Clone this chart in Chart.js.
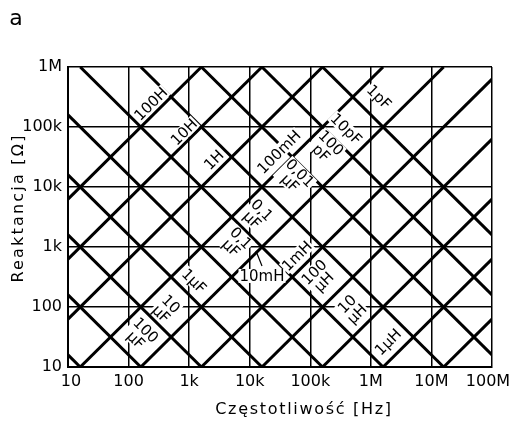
<!DOCTYPE html>
<html><head><meta charset="utf-8">
<script src="https://cdn.jsdelivr.net/npm/chart.js@4/dist/chart.umd.min.js"></script>
<style>html,body{margin:0;padding:0;background:#fff}#wrap{width:510px;height:422px;position:relative}</style>
</head><body><div id="wrap"><canvas id="c"></canvas></div>
<script>
// axis ticks
const xTickValues = [10, 100, 1e3, 1e4, 1e5, 1e6, 1e7, 1e8];
const xTickLabels = ['10', '100', '1k', '10k', '100k', '1M', '10M', '100M'];
const yTickValues = [10, 100, 1e3, 1e4, 1e5, 1e6];
const yTickLabels = ['10', '100', '1k', '10k', '100k', '1M'];

// inductive reactance lines: endpoints [frequency Hz, reactance Ω]
const inductorNames = ['100H', '10H', '1H', '100mH', '10mH', '1mH', '100μH', '10μH', '1μH', '100nH'];
const inductorStart = [[10, 6283], [10, 628.3], [10, 62.83], [15.92, 10], [159.2, 10], [1592, 10], [15915, 10], [159155, 10], [1.592e6, 10], [1.592e7, 10]];
const inductorEnd = [[1592, 1e6], [15915, 1e6], [159155, 1e6], [1.592e6, 1e6], [1.592e7, 1e6], [1e8, 628319], [1e8, 62832], [1e8, 6283], [1e8, 628.3], [1e8, 62.83]];

// capacitive reactance lines: endpoints [frequency Hz, reactance Ω]
const capacitorNames = ['1000μF', '100μF', '10μF', '1μF', '0,1μF', '0,01μF', '0,001μF', '100pF', '10pF', '1pF'];
const capacitorStart = [[10, 15.92], [10, 159.2], [10, 1592], [10, 15915], [10, 159155], [15.92, 1e6], [159.2, 1e6], [1592, 1e6], [15915, 1e6], [159155, 1e6]];
const capacitorEnd = [[15.92, 10], [159.2, 10], [1592, 10], [15915, 10], [159155, 10], [1.592e6, 10], [1.592e7, 10], [1e8, 15.92], [1e8, 159.2], [1e8, 1592]];

// line label texts
const inductorLabelTexts = ['100H', '10H', '1H', '100mH', '1mH', '100\nμH', '10\nμH', '1μH'];
const capacitorLabelTexts = ['1pF', '10pF', '100\npF', '0,01\nμF', '0,1\nμF', '0,1\nμF', '1μF', '10\nμF', '100\nμF'];
const leaderLabelText = '10mH';

// label anchors (data coordinates)
const inductorLabelAt = [[234, 241500], [822, 82600], [2570, 28200], [30500, 38300], [60400, 708], [139300, 316], [489000, 92.7], [1.92e6, 26.1]];
const capacitorLabelAt = [[1.365e6, 316000], [389000, 92700], [182000, 44700], [56000, 14100], [13200, 3410], [5940, 1167], [1202, 271], [415, 92.7], [160, 34.1]];
const leaderLabelAt = [15960, 329];
const leaderFrom = [15960, 482];
const leaderTo = [12700, 857];

const datasets = [];
inductorNames.forEach((n, i) => datasets.push({
  label: n, data: [{x: inductorStart[i][0], y: inductorStart[i][1]}, {x: inductorEnd[i][0], y: inductorEnd[i][1]}],
  borderColor: '#000', borderWidth: 3, pointRadius: 0, showLine: true, borderCapStyle: 'butt'
}));
capacitorNames.forEach((n, i) => datasets.push({
  label: n, data: [{x: capacitorStart[i][0], y: capacitorStart[i][1]}, {x: capacitorEnd[i][0], y: capacitorEnd[i][1]}],
  borderColor: '#000', borderWidth: 3, pointRadius: 0, showLine: true, borderCapStyle: 'butt'
}));

const FONT = '"DejaVu Sans", sans-serif';

function drawLabel(ctx, chart, text, at, angle) {
  const xs = chart.scales.x, ys = chart.scales.y;
  const px = xs.getPixelForValue(at[0]), py = ys.getPixelForValue(at[1]);
  const lines = text.split('\n');
  const lh = 14;
  ctx.save();
  ctx.translate(px, py);
  ctx.rotate(angle);
  ctx.font = '15px ' + FONT;
  let w = 0;
  lines.forEach(l => { w = Math.max(w, ctx.measureText(l).width); });
  const h = lines.length * lh;
  ctx.fillStyle = '#fff';
  ctx.fillRect(-w / 2 - 1, -h / 2, w + 2, h);
  ctx.fillStyle = '#000';
  ctx.textAlign = 'center';
  ctx.textBaseline = 'middle';
  lines.forEach((l, k) => ctx.fillText(l, 0, -h / 2 + lh / 2 + k * lh + 1));
  ctx.restore();
}

const annotations = {
  id: 'annotations',
  beforeDraw(chart) {
    // keep the first/last x tick labels inside the canvas like the reference
    const xs = chart.scales.x;
    const items = xs.getLabelItems();
    if (items.length) {
      items[0].options.translation[0] = xs.left + 3;
      items[items.length - 1].options.translation[0] = xs.right - 4;
    }
  },
  afterDatasetsDraw(chart) {
    const ctx = chart.ctx;
    inductorLabelTexts.forEach((t, i) => drawLabel(ctx, chart, t, inductorLabelAt[i], -Math.PI / 4));
    capacitorLabelTexts.forEach((t, i) => drawLabel(ctx, chart, t, capacitorLabelAt[i], Math.PI / 4));
    drawLabel(ctx, chart, leaderLabelText, leaderLabelAt, 0);
    const xs = chart.scales.x, ys = chart.scales.y;
    ctx.save();
    ctx.strokeStyle = '#000'; ctx.lineWidth = 1.2;
    ctx.beginPath();
    ctx.moveTo(xs.getPixelForValue(leaderFrom[0]), ys.getPixelForValue(leaderFrom[1]));
    ctx.lineTo(xs.getPixelForValue(leaderTo[0]), ys.getPixelForValue(leaderTo[1]));
    ctx.stroke();
    ctx.restore();
  },
  afterDraw(chart) {
    const ctx = chart.ctx;
    ctx.save();
    ctx.fillStyle = '#000';
    ctx.textAlign = 'center';
    ctx.textBaseline = 'middle';
    ctx.font = '22px ' + FONT;
    ctx.fillText('a', 16, 19);
    ctx.font = '16px ' + FONT;
    ctx.letterSpacing = '1.7px';
    ctx.fillText('Częstotliwość [Hz]', 304, 410);
    ctx.translate(19, 208);
    ctx.rotate(-Math.PI / 2);
    ctx.letterSpacing = '2.2px';
    ctx.fillText('Reaktancja [Ω]', 0, 0);
    ctx.restore();
  }
};

new Chart(document.getElementById('c'), {
  type: 'scatter',
  data: { datasets },
  options: {
    responsive: true, maintainAspectRatio: false, animation: false,
    layout: { padding: { top: 67, right: 18, left: 0, bottom: 0 } },
    plugins: { legend: { display: false }, tooltip: { enabled: false } },
    scales: {
      x: {
        type: 'logarithmic', min: 10, max: 1e8,
        afterBuildTicks: s => { s.ticks = xTickValues.map(v => ({ value: v })); },
        afterFit: s => { s.height = 55; s.paddingLeft = 0; s.paddingRight = 0; },
        ticks: { autoSkip: false, maxRotation: 0, padding: 5, color: '#000', font: { family: FONT, size: 16 },
          callback: (v, i) => xTickLabels[i] },
        grid: { color: '#000', lineWidth: 1.5, drawTicks: false },
        border: { display: true, color: '#000', width: 2 }
      },
      y: {
        type: 'logarithmic', min: 10, max: 1e6,
        afterBuildTicks: s => { s.ticks = yTickValues.map(v => ({ value: v })); },
        afterFit: s => { s.width = 68; s.paddingTop = 0; s.paddingBottom = 0; },
        ticks: { autoSkip: false, padding: 6, color: '#000', font: { family: FONT, size: 16 },
          callback: (v, i) => yTickLabels[i] },
        grid: { color: '#000', lineWidth: 1.5, drawTicks: false },
        border: { display: true, color: '#000', width: 2 }
      }
    }
  },
  plugins: [annotations]
});
</script></body></html>
